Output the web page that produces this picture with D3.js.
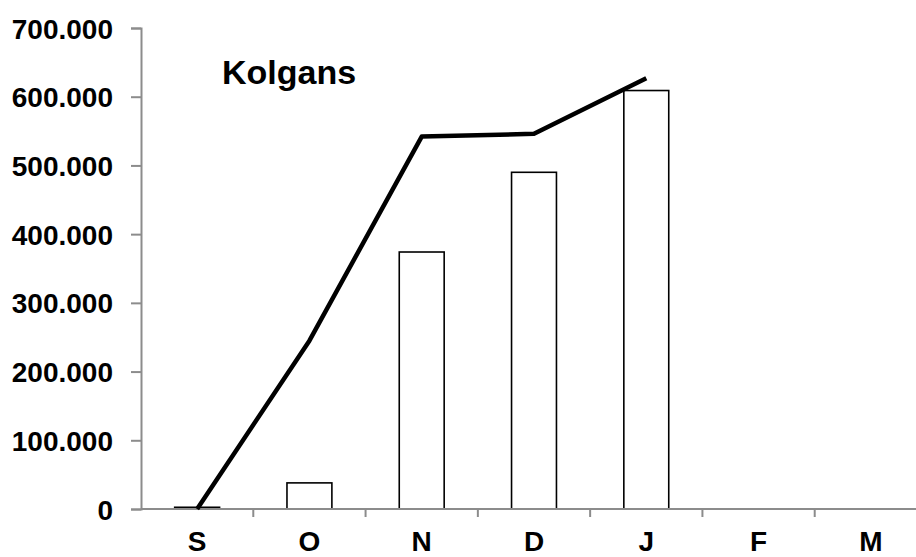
<!DOCTYPE html>
<html>
<head>
<meta charset="utf-8">
<script src="https://cdn.jsdelivr.net/npm/d3@7"></script>
<style>
  html, body { margin: 0; padding: 0; background: #fff; }
  svg { display: block; }
  text { font-family: "Liberation Sans", Arial, sans-serif; font-weight: bold; fill: #000; }
</style>
</head>
<body>
<svg id="chart" width="916" height="557"></svg>
<script>
const categories = ["S", "O", "N", "D", "J", "F", "M"];
const barValues = [2500, 38000, 374000, 490000, 609000, null, null];
const lineValues = [0, 245000, 542000, 546000, 627000, null, null];
const yTicks = [0, 100000, 200000, 300000, 400000, 500000, 600000, 700000];
const title = "Kolgans";

const svg = d3.select("#chart");
const x0 = 141, x1 = 927, yBottom = 509, yTop = 28;

const x = d3.scaleBand().domain(categories).range([x0, x1]).padding(0);
const y = d3.scaleLinear().domain([0, 700000]).range([yBottom, yTop]);
const fmt = v => v === 0 ? "0" : d3.format(",")(v).replace(/,/g, ".");

// bars
const bw = x.bandwidth() * 0.4;
svg.append("g").selectAll("rect")
  .data(categories.map((c, i) => ({c, v: barValues[i]})).filter(d => d.v != null))
  .join("rect")
  .attr("x", d => x(d.c) + x.bandwidth() / 2 - bw / 2)
  .attr("y", d => y(d.v))
  .attr("width", bw)
  .attr("height", d => y(0) - y(d.v))
  .attr("fill", "#fff")
  .attr("stroke", "#000")
  .attr("stroke-width", 1.6);

// y axis
const yAxis = d3.axisLeft(y).tickValues(yTicks).tickFormat(fmt).tickSize(10).tickPadding(18);
const gy = svg.append("g").attr("transform", `translate(${x0},0)`).call(yAxis);
gy.select(".domain").attr("stroke", "#8c8c8c").attr("stroke-width", 2);
gy.selectAll(".tick line").attr("stroke", "#8c8c8c").attr("stroke-width", 2);
gy.selectAll(".tick text").style("font-size", "28px").attr("dy", "0.36em");

// x axis baseline + tick marks between categories
const gx = svg.append("g");
gx.append("line").attr("x1", x0).attr("x2", x1).attr("y1", y(0)).attr("y2", y(0))
  .attr("stroke", "#8c8c8c").attr("stroke-width", 2);
gx.selectAll("line.bt").data(categories.slice(1)).join("line").attr("class", "bt")
  .attr("x1", d => x(d)).attr("x2", d => x(d))
  .attr("y1", y(0)).attr("y2", y(0) + 8)
  .attr("stroke", "#8c8c8c").attr("stroke-width", 2);
gx.selectAll("text").data(categories).join("text")
  .attr("x", d => x(d) + x.bandwidth() / 2)
  .attr("y", 551)
  .attr("text-anchor", "middle")
  .style("font-size", "28px")
  .text(d => d);

// line
const line = d3.line()
  .defined(d => d.v != null)
  .x(d => x(d.c) + x.bandwidth() / 2)
  .y(d => y(d.v));
svg.append("path")
  .datum(categories.map((c, i) => ({c, v: lineValues[i]})))
  .attr("d", line)
  .attr("fill", "none")
  .attr("stroke", "#000")
  .attr("stroke-width", 4.5)
  .attr("stroke-linejoin", "round");

// title
svg.append("text").attr("x", 222).attr("y", 84).style("font-size", "34px").text(title);
</script>
</body>
</html>
